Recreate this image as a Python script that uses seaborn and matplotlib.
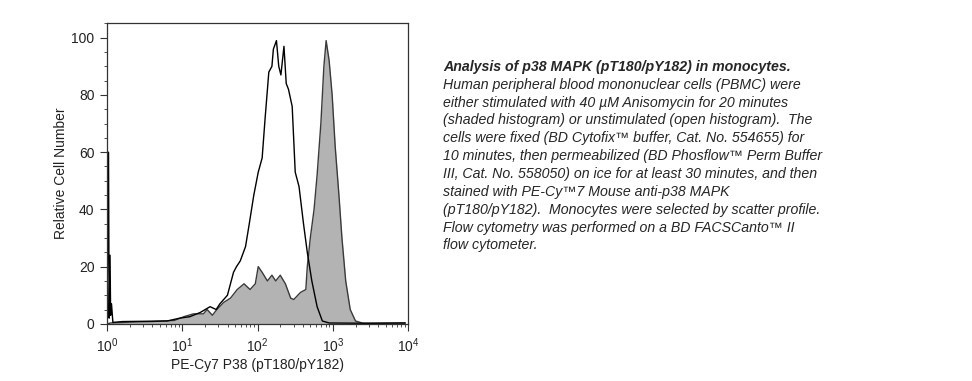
import numpy as np
import pandas as pd
import matplotlib
matplotlib.use("Agg")
import matplotlib.pyplot as plt
import seaborn as sns
from matplotlib.ticker import LogLocator, MultipleLocator, LogFormatterMathtext

sns.set_style("white")
plt.rcParams["font.family"] = ["Liberation Sans", "DejaVu Sans"]
plt.rcParams["mathtext.default"] = "regular"

# Unstimulated (open histogram), fluorescence intensity vs relative count
open_x = [1.0, 1.05, 1.07, 1.10, 1.12, 1.15, 1.20, 1.6, 3.2, 6.3, 9.3, 12.6,
          17.4, 23.4, 28.2, 31.6, 39.8, 47.9, 52.5, 58.9, 69.2, 77.6, 89.1,
          102, 115, 126, 141, 155, 162, 178, 191, 204, 224, 240, 257, 288,
          316, 355, 407, 457, 525, 617, 724, 891, 3162, 9120]
open_y = [0, 60, 2, 24, 3, 7, 0.5, 0.8, 0.9, 1.0, 2, 2.5,
          4, 6, 5, 7, 10, 18, 20, 22, 27, 35, 45,
          53, 58, 72, 88, 90, 96, 99, 90, 87, 97, 84, 82, 76,
          53, 48, 35, 25, 15, 6, 1, 0.3, 0.2, 0.3]

# Anisomycin stimulated (shaded histogram)
shaded_x = [1.0, 1.12, 2.0, 4.0, 7.9, 10.5, 14.1, 19.1, 21.4, 25.1, 28.8,
            35.5, 43.7, 53.7, 66.1, 79.4, 93.3, 102, 115, 135, 155, 174,
            200, 234, 275, 302, 372, 437, 457, 501, 562, 617, 692, 759,
            813, 891, 977, 1072, 1202, 1318, 1479, 1698, 1995, 2512, 9120]
shaded_y = [0, 0.3, 0.6, 0.8, 1.2, 2.5, 3.5, 3.5, 5, 3, 5,
            7.5, 9, 12, 14, 12, 14, 20, 18, 15, 17, 15,
            17, 14, 9, 8.5, 11, 12, 20, 30, 40, 52, 70, 90,
            99, 92, 80, 62, 45, 30, 15, 5, 1, 0.2, 0.3]

x_label = "PE-Cy7 P38 (pT180/pY182)"
y_label = "Relative Cell Number"
caption_title = "Analysis of p38 MAPK (pT180/pY182) in monocytes."
caption_body = (
    "Human peripheral blood mononuclear cells (PBMC) were\n"
    "either stimulated with 40 \u00b5M Anisomycin for 20 minutes\n"
    "(shaded histogram) or unstimulated (open histogram).  The\n"
    "cells were fixed (BD Cytofix\u2122 buffer, Cat. No. 554655) for\n"
    "10 minutes, then permeabilized (BD Phosflow\u2122 Perm Buffer\n"
    "III, Cat. No. 558050) on ice for at least 30 minutes, and then\n"
    "stained with PE-Cy\u21227 Mouse anti-p38 MAPK\n"
    "(pT180/pY182).  Monocytes were selected by scatter profile.\n"
    "Flow cytometry was performed on a BD FACSCanto\u2122 II\n"
    "flow cytometer."
)

df_open = pd.DataFrame({"x": open_x, "y": open_y})
df_shaded = pd.DataFrame({"x": shaded_x, "y": shaded_y})

fig = plt.figure(figsize=(9.72, 3.81), dpi=100)
ax = fig.add_axes([0.110, 0.150, 0.310, 0.790])

ax.fill_between(df_shaded["x"], df_shaded["y"], 0, color="#b3b3b3", lw=0)
sns.lineplot(data=df_shaded, x="x", y="y", sort=False, color="#3a3a3a",
             lw=1.0, ax=ax)
sns.lineplot(data=df_open, x="x", y="y", sort=False, color="black",
             lw=1.0, ax=ax)

ax.set_xscale("log")
ax.set_xlim(1, 1e4)
ax.set_ylim(0, 105.2)
ax.xaxis.set_major_locator(LogLocator(base=10, numticks=10))
ax.xaxis.set_minor_locator(LogLocator(base=10, subs=np.arange(2, 10), numticks=10))
ax.xaxis.set_major_formatter(LogFormatterMathtext())
ax.yaxis.set_major_locator(MultipleLocator(20))
ax.yaxis.set_minor_locator(MultipleLocator(5))

ax.tick_params(which="major", direction="out", length=5, width=0.8,
               color="#333333", labelsize=10, pad=4, bottom=True, left=True,
               labelcolor="#222222")
ax.tick_params(which="minor", direction="out", length=2.5, width=0.6,
               color="#333333", bottom=True, left=True)
for s in ax.spines.values():
    s.set_color("#333333")
    s.set_linewidth(0.9)

ax.set_xlabel(x_label, fontsize=10, labelpad=2, color="#222222")
ax.set_ylabel(y_label, fontsize=10, labelpad=2.5, color="#222222")

fig.text(0.456, 0.843, caption_title, fontsize=10.2, fontweight="bold",
         fontstyle="italic", va="top", ha="left")
fig.text(0.456, 0.796, caption_body, fontsize=10.2, fontstyle="italic",
         va="top", ha="left", linespacing=1.35)

fig.savefig("out.png", dpi=100)
